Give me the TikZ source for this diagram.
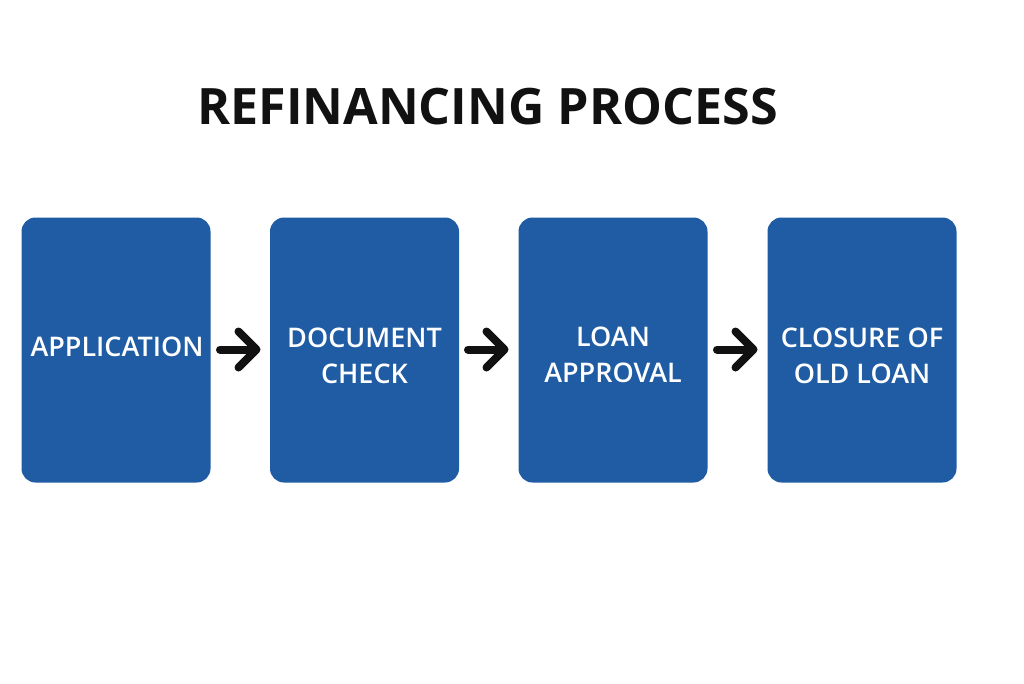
\documentclass[tikz,border=0pt]{standalone}
\usepackage{fontspec}
\setmainfont{Open Sans}
\usetikzlibrary{arrows.meta}
\definecolor{boxblue}{HTML}{1F5CA3}
\definecolor{inkblack}{HTML}{111111}
\tikzset{
  stepbox/.style={fill=boxblue,rounded corners=14pt,minimum width=189pt,minimum height=265pt,inner sep=0pt},
  steplabel/.style={inner sep=0pt,text=white,align=center,font=\fontsize{27}{36}\selectfont\fontspec{Open Sans Semibold}},
  flow/.style={draw=inkblack,line width=8pt,line cap=round,line join=round,-{Straight Barb[length=18pt,width=36pt,line width=8pt,round,line join=round]}}
}
\begin{document}
\begin{tikzpicture}[x=1pt,y=-1pt]
\useasboundingbox (0,0) rectangle (1024,683);
\fill[white] (0,0) rectangle (1024,683);
\node[font=\fontsize{50.2}{56}\selectfont\bfseries,text=inkblack,anchor=center] (title) at (487.5,107) {REFINANCING PROCESS};
\node[stepbox] (a) at (116,350) {};
\node[stepbox] (b) at (364.5,350) {};
\node[stepbox] (c) at (613,350) {};
\node[stepbox] (d) at (862,350) {};
\node[steplabel] (at) at (117,347) {APPLICATION};
\node[steplabel] (bt) at (364.5,356) {DOCUMENT\\CHECK};
\node[steplabel] (ct) at (613,355) {LOAN\\APPROVAL};
\node[steplabel] (dt) at (862,356) {CLOSURE OF\\OLD LOAN};
\coordinate (a1) at (220,349.5); \coordinate (a2) at (260.5,349.5);
\coordinate (b1) at (468,349.5); \coordinate (b2) at (508.5,349.5);
\coordinate (c1) at (717,349.5); \coordinate (c2) at (757.5,349.5);
\draw[flow] (a1) -- (a2);
\draw[flow] (b1) -- (b2);
\draw[flow] (c1) -- (c2);
\end{tikzpicture}
\end{document}
